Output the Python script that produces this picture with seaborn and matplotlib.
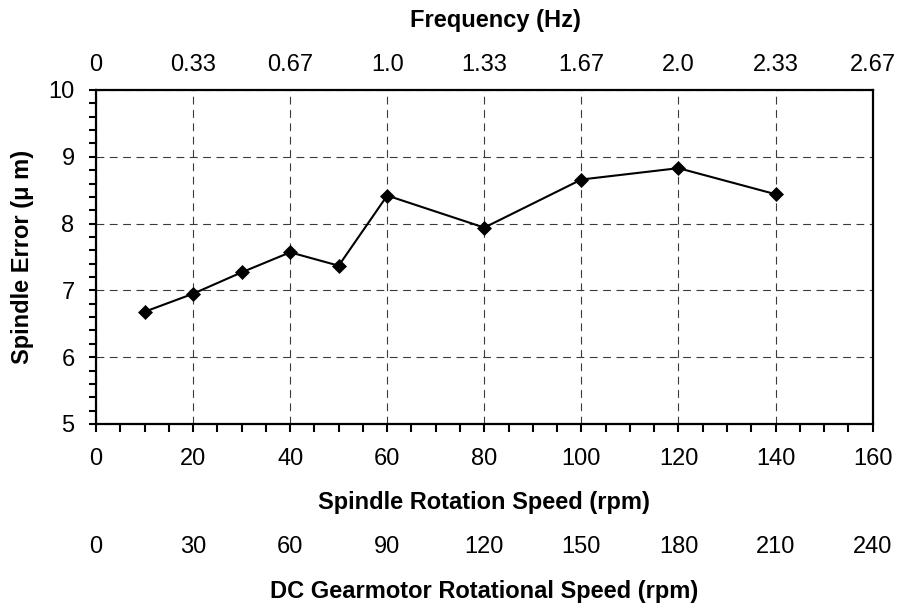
import matplotlib
matplotlib.use("Agg")
import matplotlib.pyplot as plt
import seaborn as sns
import pandas as pd
from matplotlib.ticker import MultipleLocator

# ---- data ----
spindle_rpm = [10, 20, 30, 40, 50, 60, 80, 100, 120, 140]
spindle_error = [6.68, 6.95, 7.27, 7.57, 7.37, 8.42, 7.94, 8.66, 8.83, 8.44]
rpm_ticks = [0, 20, 40, 60, 80, 100, 120, 140, 160]
freq_labels = ["0", "0.33", "0.67", "1.0", "1.33", "1.67", "2.0", "2.33", "2.67"]
gear_labels = ["0", "30", "60", "90", "120", "150", "180", "210", "240"]
y_ticks = [5, 6, 7, 8, 9, 10]

df = pd.DataFrame({"rpm": spindle_rpm, "err": spindle_error})

sns.set_theme(style="white")
plt.rcParams["font.family"] = ["Liberation Sans", "DejaVu Sans"]
plt.rcParams["text.color"] = "black"
plt.rcParams["axes.labelcolor"] = "black"
plt.rcParams["xtick.color"] = "black"
plt.rcParams["ytick.color"] = "black"

FS = 17
W, H = 904, 612
fig = plt.figure(figsize=(W / 100, H / 100), dpi=100)
L, R, T, B = 96, 872.6, 90, 424
ax = fig.add_axes([L / W, 1 - B / H, (R - L) / W, (B - T) / H])
ah = B - T

sns.lineplot(data=df, x="rpm", y="err", ax=ax, color="black", lw=1.5,
             marker="D", markersize=7, markeredgewidth=0.5,
             markeredgecolor="black", markerfacecolor="black", zorder=5)

ax.set_xlim(0, 160)
ax.set_ylim(5, 10)
ax.set_xticks(rpm_ticks)
ax.set_yticks(y_ticks)
ax.xaxis.set_minor_locator(MultipleLocator(5))
ax.yaxis.set_minor_locator(MultipleLocator(0.2))

ax.grid(True, which="major", color="#3a3a3a", lw=0.8, linestyle=(0, (7, 5)))
ax.set_axisbelow(True)

for s in ax.spines.values():
    s.set_visible(True)
    s.set_color("black")
    s.set_linewidth(1.6)

ax.tick_params(axis="both", which="both", direction="out", length=5.4,
               width=1.5, color="black", labelsize=FS, labelcolor="black")
ax.tick_params(axis="x", which="both", bottom=True, top=False, pad=11.9)
ax.tick_params(axis="y", which="both", left=True, right=False, pad=10)

ax.set_xlabel("Spindle Rotation Speed (rpm)", fontsize=FS, fontweight="bold",
              va="center", color="black")
ax.xaxis.set_label_coords(0.5, (B - 502) / ah)
ax.set_ylabel("Spindle Error (\u03bc m)", fontsize=FS, fontweight="bold",
              va="center", color="black")
ax.yaxis.set_label_coords((23 - L) / (R - L), 0.5)

# top frequency axis
top = ax.secondary_xaxis("top")
top.set_xticks(rpm_ticks, labels=freq_labels)
top.tick_params(length=0, pad=10.4, labelsize=FS, labelcolor="black")
top.spines["top"].set_visible(False)
ax.text((495 - L) / (R - L), 1 + (T - 21) / ah, "Frequency (Hz)",
        transform=ax.transAxes, ha="center", va="center",
        fontsize=FS, fontweight="bold", color="black")

# DC gearmotor axis
gear = ax.secondary_xaxis((B - 536) / ah)
gear.set_xticks(rpm_ticks, labels=gear_labels)
gear.tick_params(length=0, pad=0, labelsize=FS, labelcolor="black")
gear.spines["bottom"].set_visible(False)
gear.set_xlabel("DC Gearmotor Rotational Speed (rpm)", fontsize=FS,
                fontweight="bold", labelpad=15.5, color="black")

fig.savefig("out.png", dpi=100)
